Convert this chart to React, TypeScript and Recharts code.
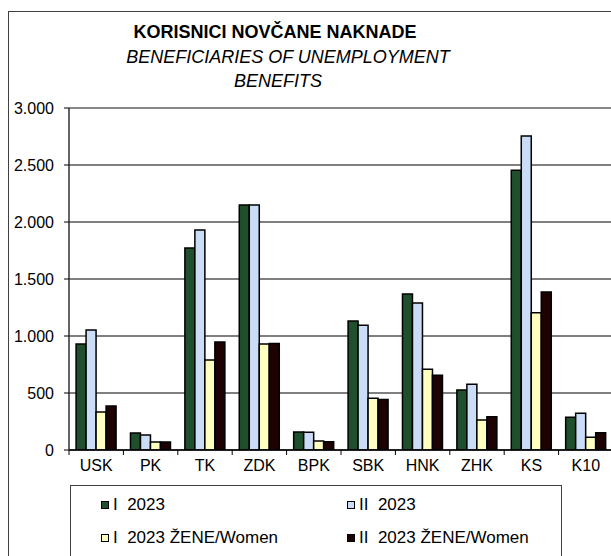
import React from 'react';
import { BarChart, Bar, XAxis, YAxis, CartesianGrid, ReferenceLine } from 'recharts';

const categories = ['USK', 'PK', 'TK', 'ZDK', 'BPK', 'SBK', 'HNK', 'ZHK', 'KS', 'K10'];
const seriesI2023 = [930, 149, 1772, 2150, 158, 1132, 1368, 526, 2453, 287];
const seriesII2023 = [1053, 132, 1930, 2150, 155, 1094, 1289, 576, 2754, 322];
const seriesIWomen = [333, 70, 789, 930, 79, 453, 708, 263, 1205, 111];
const seriesIIWomen = [386, 70, 947, 935, 73, 444, 655, 292, 1386, 152];
const yTicks = [0, 500, 1000, 1500, 2000, 2500, 3000];

const seriesNames = ['I  2023', 'II  2023', 'I  2023 ŽENE/Women', 'II  2023 ŽENE/Women'];
const seriesKeys = ['a', 'b', 'c', 'd'];
const seriesColors = ['#1f4f2c', '#cadcf6', '#ffffc0', '#1c0202'];

const data = categories.map((c, i) => ({
  name: c,
  a: seriesI2023[i],
  b: seriesII2023[i],
  c: seriesIWomen[i],
  d: seriesIIWomen[i],
}));

const FONT = 'Arial, "Liberation Sans", sans-serif';

const fmt = (v: number) => {
  const s = String(v);
  return s.length > 3 ? s.slice(0, s.length - 3) + '.' + s.slice(s.length - 3) : s;
};

const CatTick = (props: any) => {
  const { x, y, payload } = props;
  const off = payload && payload.offset != null ? payload.offset : 27.2;
  return (
    <g>
      <line x1={x - off} x2={x - off} y1={y - 10} y2={y - 5} stroke="#000" strokeWidth={1} />
      <text x={x} y={y} dy="0.71em" textAnchor="middle" fontSize={16} fill="#000" fontFamily={FONT}>
        {payload.value}
      </text>
    </g>
  );
};

export default function App() {
  return (
    <div style={{ position: 'absolute', left: 0, top: 0, width: 611, height: 556, overflow: 'hidden', background: '#fff', fontFamily: FONT }}>
      <div style={{ position: 'absolute', left: 8, top: 11, width: 700, height: 700, border: '1px solid #404040', boxSizing: 'border-box' }} />
      <div style={{ position: 'absolute', left: 75, width: 400, top: 20, lineHeight: '24px', textAlign: 'center', fontSize: 18, fontWeight: 'bold', color: '#000' }}>
        KORISNICI NOVČANE NAKNADE
      </div>
      <div style={{ position: 'absolute', left: 88, width: 400, top: 45, lineHeight: '24px', textAlign: 'center', fontSize: 18, fontStyle: 'italic', color: '#000' }}>
        BENEFICIARIES OF UNEMPLOYMENT
      </div>
      <div style={{ position: 'absolute', left: 78, width: 400, top: 69, lineHeight: '24px', textAlign: 'center', fontSize: 18, fontStyle: 'italic', color: '#000' }}>
        BENEFITS
      </div>
      <div style={{ position: 'absolute', left: 0, top: 0 }}>
        <BarChart
          width={613}
          height={556}
          data={data}
          margin={{ top: 108, right: 0, bottom: 76, left: 0 }}
          barCategoryGap="13%"
          barGap={0}
        >
          <CartesianGrid vertical={false} stroke="#000" strokeWidth={1} />
          <XAxis
            dataKey="name"
            height={30}
            tickLine={false}
            tickSize={5}
            tickMargin={5}
            axisLine={{ stroke: '#000', strokeWidth: 1.5 }}
            tick={<CatTick />}
            interval={0}
          />
          <YAxis
            width={69}
            domain={[0, 3000]}
            ticks={yTicks}
            tickFormatter={fmt}
            tickSize={5}
            tickMargin={10}
            tick={{ fontSize: 16, fill: '#000', fontFamily: FONT }}
            tickLine={{ stroke: '#000' }}
            axisLine={{ stroke: '#303030', strokeWidth: 1.5 }}
            allowDataOverflow
          />
          <ReferenceLine y={3000} stroke="#888" strokeWidth={2} />
          {seriesKeys.map((k, i) => (
            <Bar key={k} dataKey={k} name={seriesNames[i]} fill={seriesColors[i]} stroke="#000" strokeWidth={1.5} isAnimationActive={false} />
          ))}
        </BarChart>
      </div>
      <div style={{ position: 'absolute', left: 70, top: 485, width: 492, height: 100, border: '1px solid #404040', boxSizing: 'border-box', background: '#fff' }} />
      {seriesNames.map((n, i) => {
        const col = i % 2;
        const row = Math.floor(i / 2);
        const left = col === 0 ? 101 : 347;
        const cy = row === 0 ? 505 : 538;
        return (
          <div key={n} style={{ position: 'absolute', left, top: cy - 11, height: 22, display: 'flex', alignItems: 'center', fontSize: 17, color: '#000', whiteSpace: 'pre' }}>
            <span style={{ display: 'inline-block', width: 6, height: 6, border: '1.5px solid #000', background: seriesColors[i], marginRight: 4 }} />
            <span>{n}</span>
          </div>
        );
      })}
    </div>
  );
}
